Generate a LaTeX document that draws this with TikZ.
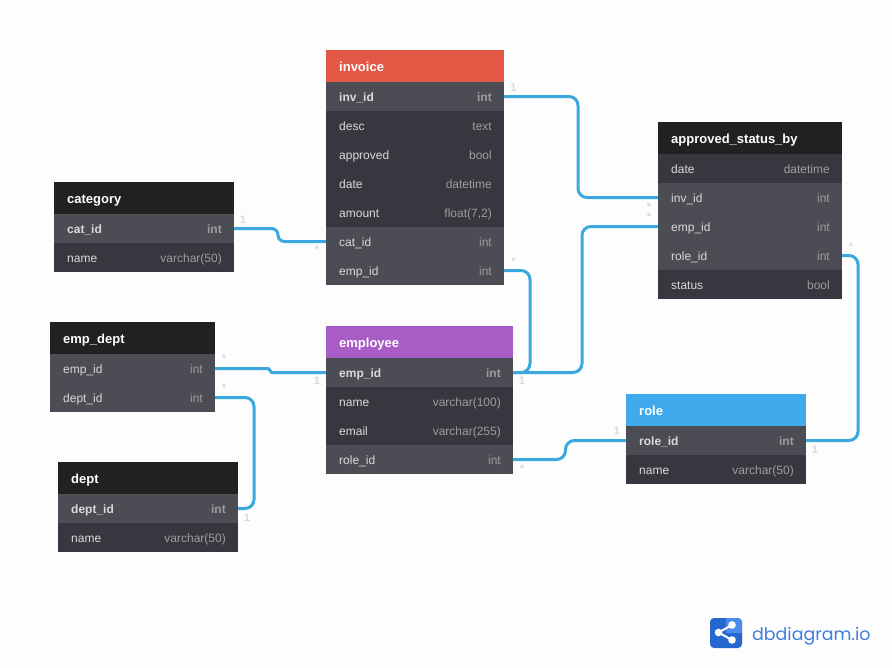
\documentclass[tikz,border=0pt]{standalone}
\usepackage{fontspec}
\setmainfont{Liberation Sans}
\newfontfamily\logofont{Poppins}
\definecolor{pagebg}{HTML}{FDFDFD}
\definecolor{headdark}{HTML}{212121}
\definecolor{rowdark}{HTML}{37383F}
\definecolor{rowlight}{HTML}{4B4C54}
\definecolor{txtname}{HTML}{DADADA}
\definecolor{txttype}{HTML}{9C9CA1}
\definecolor{invred}{HTML}{E35845}
\definecolor{emppurple}{HTML}{A95BC6}
\definecolor{roleblue}{HTML}{40A9EC}
\definecolor{linkblue}{HTML}{3BA8DE}
\definecolor{cardlabel}{HTML}{D8D8D8}
\definecolor{logodark}{HTML}{2566CF}
\definecolor{logolight}{HTML}{4A8CF0}
\definecolor{logotxt}{HTML}{3F7EDC}
\tikzset{
  x=1pt,y=-1pt,
  box/.style={rectangle,draw=none,inner sep=0pt,outer sep=0pt,anchor=north west},
  rowtext/.style={inner sep=0pt,font=\fontsize{12}{14}\selectfont},
  headtext/.style={inner sep=0pt,anchor=base west,text=white,font=\fontsize{13}{15}\selectfont\bfseries},
  link/.style={draw=linkblue,line width=3pt,line join=round},
  card/.style={inner sep=0pt,text=cardlabel,font=\fontsize{11}{13}\selectfont\bfseries},
}
% \thead{name}{x}{y}{w}{colour}{text}
\newcommand{\thead}[6]{%
  \node[box,fill=#5,minimum width=#4pt,minimum height=32pt] (#1) at (#2,#3) {};
  \node[headtext] (#1-t) at (#2+13,#3+21) {#6};
}
% \trow{name}{x}{y}{w}{fill}{label}{type}{font extra}
\newcommand{\trow}[8]{%
  \node[box,fill=#5,minimum width=#4pt,minimum height=29pt] (#1) at (#2,#3) {};
  \node[rowtext,anchor=base west,text=txtname] (#1-l) at (#2+13,#3+19) {#8#6};
  \node[rowtext,anchor=base east,text=txttype] (#1-r) at (#2+#4-12,#3+19) {#8#7};
}
% \conn{from}{x of the vertical}{to}{radius}
\newcommand{\conn}[4]{%
  \coordinate (vv) at (#2,0);
  \draw[link,rounded corners=#4pt] (#1) -- (#1 -| vv) -- (#3 -| vv) -- (#3);
}
\begin{document}
\begin{tikzpicture}
\useasboundingbox (0,0) rectangle (892,667);
\fill[pagebg] (0,0) rectangle (892,667);

% invoice
\thead{inv}{326}{50}{178}{invred}{invoice}
\trow{invid}{326}{82}{178}{rowlight}{inv\_id}{int}{\bfseries}
\trow{invdesc}{326}{111}{178}{rowdark}{desc}{text}{}
\trow{invappr}{326}{140}{178}{rowdark}{approved}{bool}{}
\trow{invdate}{326}{169}{178}{rowdark}{date}{datetime}{}
\trow{invamt}{326}{198}{178}{rowdark}{amount}{float(7,2)}{}
\trow{invcat}{326}{227}{178}{rowlight}{cat\_id}{int}{}
\trow{invemp}{326}{256}{178}{rowlight}{emp\_id}{int}{}

% category
\thead{cat}{54}{182}{180}{headdark}{category}
\trow{catid}{54}{214}{180}{rowlight}{cat\_id}{int}{\bfseries}
\trow{catname}{54}{243}{180}{rowdark}{name}{varchar(50)}{}

% emp_dept
\thead{ed}{50}{322}{165}{headdark}{emp\_dept}
\trow{edemp}{50}{354}{165}{rowlight}{emp\_id}{int}{}
\trow{eddept}{50}{383}{165}{rowlight}{dept\_id}{int}{}

% dept
\thead{dp}{58}{462}{180}{headdark}{dept}
\trow{dpid}{58}{494}{180}{rowlight}{dept\_id}{int}{\bfseries}
\trow{dpname}{58}{523}{180}{rowdark}{name}{varchar(50)}{}

% employee
\thead{em}{326}{326}{187}{emppurple}{employee}
\trow{emid}{326}{358}{187}{rowlight}{emp\_id}{int}{\bfseries}
\trow{emname}{326}{387}{187}{rowdark}{name}{varchar(100)}{}
\trow{emmail}{326}{416}{187}{rowdark}{email}{varchar(255)}{}
\trow{emrole}{326}{445}{187}{rowlight}{role\_id}{int}{}

% role
\thead{ro}{626}{394}{180}{roleblue}{role}
\trow{roid}{626}{426}{180}{rowlight}{role\_id}{int}{\bfseries}
\trow{roname}{626}{455}{180}{rowdark}{name}{varchar(50)}{}

% approved_status_by
\thead{as}{658}{122}{184}{headdark}{approved\_status\_by}
\trow{asdate}{658}{154}{184}{rowdark}{date}{datetime}{}
\trow{asinv}{658}{183}{184}{rowlight}{inv\_id}{int}{}
\trow{asemp}{658}{212}{184}{rowlight}{emp\_id}{int}{}
\trow{asrole}{658}{241}{184}{rowlight}{role\_id}{int}{}
\trow{asstat}{658}{270}{184}{rowdark}{status}{bool}{}

% connectors
\conn{invid.east}{578}{asinv.west}{9}
\conn{catid.east}{278}{invcat.west}{6.5}
\conn{invemp.east}{530}{emid.east}{9}
\conn{emid.east}{582}{asemp.west}{9}
\conn{edemp.east}{270}{emid.west}{1.8}
\conn{eddept.east}{254}{dpid.east}{9}
\conn{asrole.east}{858}{roid.east}{9}
\conn{emrole.east}{565.5}{roid.west}{9}

% cardinality labels
\node[card] (c1) at (513.5,88) {1};
\node[card] (c2) at (513.5,262) {*};
\node[card] (c3) at (243,220) {1};
\node[card] (c4) at (317,250) {*};
\node[card] (c5) at (224,359) {*};
\node[card] (c6) at (224,388) {*};
\node[card] (c7) at (317,381) {1};
\node[card] (c8) at (247,518) {1};
\node[card] (c9) at (522,381) {1};
\node[card] (c10) at (522,469) {*};
\node[card] (c11) at (617,431) {1};
\node[card] (c12) at (815,450) {1};
\node[card] (c13) at (851,247) {*};
\node[card] (c14) at (649,207) {*};
\node[card] (c15) at (649,217) {*};

% logo
\fill[logodark,rounded corners=4pt] (710,618) rectangle (742,648);
\begin{scope}
  \clip[rounded corners=4pt] (710,618) rectangle (742,648);
  \fill[logolight] (726,618) rectangle (742,633);
\end{scope}
\draw[white,line width=2pt] (732,625) -- (718.5,632.5) -- (732,640);
\fill[white] (718.5,632.5) circle (3.8pt) (732,625) circle (3.8pt) (732,640) circle (3.8pt);
\node[inner sep=0pt,anchor=base west,text=logotxt,font=\fontsize{17.4}{20}\logofont] (logo) at (752,640) {dbdiagram.io};
\end{tikzpicture}
\end{document}
